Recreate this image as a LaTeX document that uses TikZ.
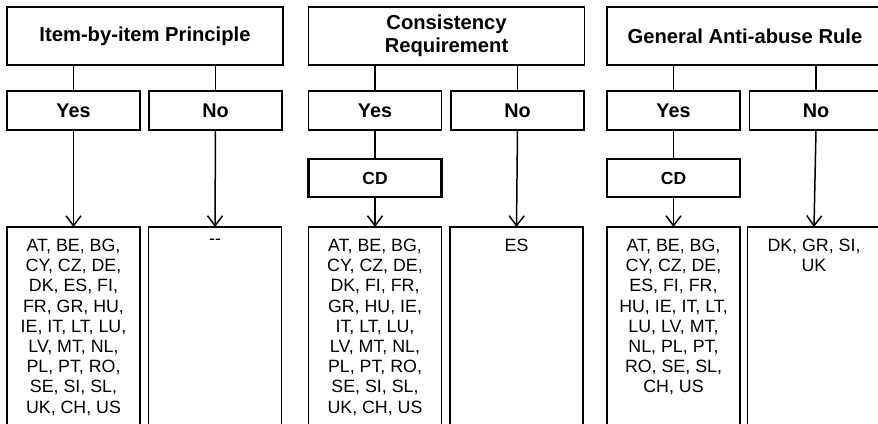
\documentclass[tikz,border=0pt]{standalone}
\usepackage{fontspec}
\setmainfont{Liberation Sans}
\usetikzlibrary{arrows.meta}

\tikzset{
  frame/.style={draw=black, line width=1.5pt, inner sep=0pt, outer sep=0pt,
                fill=white, align=center},
  headbox/.style={frame, minimum width=276pt, minimum height=58pt,
                  font=\fontsize{20.2}{23}\selectfont\bfseries},
  answerbox/.style={frame, minimum width=133pt, minimum height=39pt,
                    font=\fontsize{19.8}{23}\selectfont\bfseries},
  cdbox/.style={frame, line width=2.6pt, minimum width=133pt, minimum height=38pt,
                font=\fontsize{17.5}{20}\selectfont\bfseries},
  listbox/.style={frame, anchor=north, font=\fontsize{17.8}{20.2}\selectfont},
  link/.style={line width=1.5pt},
  flow/.style={line width=1.5pt, -{Straight Barb[length=10pt,width=15pt,line width=1.5pt]}}
}

% country list box: fixed height, text starting at the top
\newcommand{\countrylist}[1]{\parbox[c][210pt][t]{133pt}{\centering\vspace*{12pt}#1}}

\begin{document}
\begin{tikzpicture}[x=1pt, y=-1pt]
  \useasboundingbox (0,0) rectangle (878,423);
  \clip (0,0) rectangle (878,423);

  % ---- Item-by-item Principle ----
  \node[headbox] (h1) at (145,36) {Item-by-item Principle};
  \node[answerbox] (y1) at (73.5,110.5) {Yes};
  \node[answerbox] (n1) at (215.5,110.5) {No};
  \node[listbox] (ly1) at (73.5,227) {\countrylist{AT, BE, BG,\\ CY, CZ, DE,\\ DK, ES, FI,\\ FR, GR, HU,\\ IE, IT, LT, LU,\\ LV, MT, NL,\\ PL, PT, RO,\\ SE, SI, SL,\\ UK, CH, US}};
  \node[listbox] (ln1) at (215,227) {\countrylist{{-}{-}}};

  \draw[link] (h1.south -| y1.north) -- (y1.north);
  \draw[link] (h1.south -| n1.north) -- (n1.north);
  \draw[flow] (y1.south) -- (ly1.north);
  \draw[flow] (n1.south) -- (ln1.north);

  % ---- Consistency Requirement ----
  \node[headbox] (h2) at (446.5,36) {Consistency\\ Requirement};
  \node[answerbox] (y2) at (375,110.5) {Yes};
  \node[answerbox] (n2) at (517.5,110.5) {No};
  \node[cdbox] (c2) at (375,178) {CD};
  \node[listbox] (ly2) at (375,227) {\countrylist{AT, BE, BG,\\ CY, CZ, DE,\\ DK, FI, FR,\\ GR, HU, IE,\\ IT, LT, LU,\\ LV, MT, NL,\\ PL, PT, RO,\\ SE, SI, SL,\\ UK, CH, US}};
  \node[listbox] (ln2) at (516.5,227) {\countrylist{ES}};

  \draw[link] (h2.south -| y2.north) -- (y2.north);
  \draw[link] (h2.south -| n2.north) -- (n2.north);
  \draw[link] (y2.south) -- (c2.north);
  \draw[flow] (c2.south) -- (ly2.north);
  \draw[flow] (n2.south) -- (ln2.north);

  % ---- General Anti-abuse Rule ----
  \node[headbox] (h3) at (745,36) {General Anti-abuse Rule};
  \node[answerbox] (y3) at (673.5,110.5) {Yes};
  \node[answerbox] (n3) at (816,110.5) {No};
  \node[cdbox] (c3) at (673.5,178) {CD};
  \node[listbox] (ly3) at (673.5,227) {\countrylist{AT, BE, BG,\\ CY, CZ, DE,\\ ES, FI, FR,\\ HU, IE, IT, LT,\\ LU, LV, MT,\\ NL, PL, PT,\\ RO, SE, SL,\\ CH, US}};
  \node[listbox] (ln3) at (814,227) {\countrylist{DK, GR, SI,\\ UK}};

  \draw[link] (h3.south -| y3.north) -- (y3.north);
  \draw[link] (h3.south -| n3.north) -- (n3.north);
  \draw[link] (y3.south) -- (c3.north);
  \draw[flow] (c3.south) -- (ly3.north);
  \draw[flow] (n3.south) -- (ln3.north);
\end{tikzpicture}
\end{document}
